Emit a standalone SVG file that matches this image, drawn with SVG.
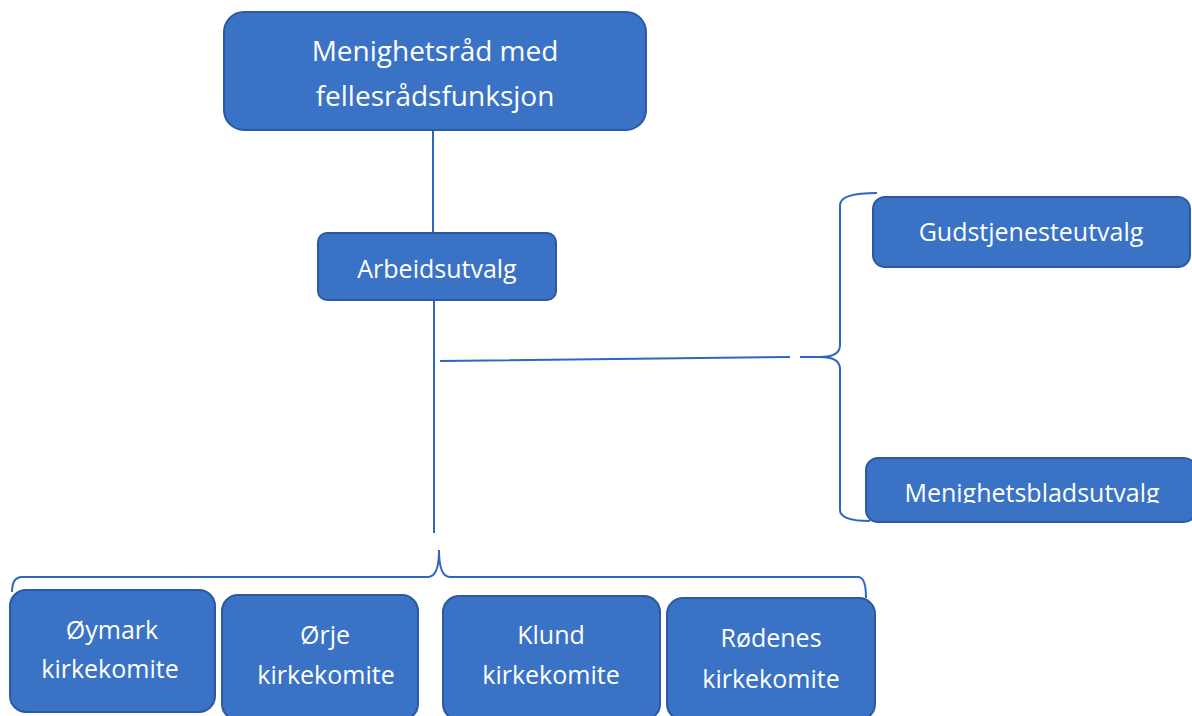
<svg xmlns="http://www.w3.org/2000/svg" width="1192" height="716" viewBox="0 0 1192 716">
<style>
.box{fill:#3a72c6;stroke:#2c5aa0;stroke-width:2}
.t{fill:#fff;font-family:"Open Sans","Liberation Sans",sans-serif;text-anchor:middle}
.ln{fill:none;stroke:#2f66c2;stroke-width:2}
</style>
<defs>
<clipPath id="cmbl"><rect x="866" y="458" width="330" height="45"/></clipPath>
</defs>
<rect width="1192" height="716" fill="#fff"/>
<g id="connectors">
<path class="ln" d="M433 130V233"/>
<path class="ln" d="M434 300V533"/>
<path class="ln" d="M440 361L790 357M800 357L820 357"/>
<path class="ln" d="M877 193Q840 193 840 205V345Q840 357 820 357Q840 357 840 369V510Q840 521 870 521"/>
<path class="ln" d="M12 592Q12 577 22 577H428Q439 577 439 550Q439 577 450 577H858Q866 577 866 598"/>
</g>
<g id="n-top">
<rect class="box" x="224" y="12" width="422" height="118" rx="20"/>
<text class="t" x="435" y="61" font-size="28">Menighetsråd med</text>
<text class="t" x="435" y="106" font-size="28">fellesrådsfunksjon</text>
</g>
<g id="n-arbeid">
<rect class="box" x="318" y="233" width="238" height="67" rx="9"/>
<text class="t" x="437" y="278" font-size="25">Arbeidsutvalg</text>
</g>
<g id="n-guds">
<rect class="box" x="873" y="197" width="317" height="70" rx="12"/>
<text class="t" x="1031" y="241" font-size="25">Gudstjenesteutvalg</text>
</g>
<g id="n-mbl">
<rect class="box" x="866" y="458" width="330" height="64" rx="12"/>
<text class="t" x="1032" y="502" font-size="25" clip-path="url(#cmbl)">Menighetsbladsutvalg</text>
</g>
<g id="n-oymark">
<rect class="box" x="10" y="590" width="205" height="122" rx="16"/>
<text class="t" x="112" y="639" font-size="25">Øymark</text>
<text class="t" x="110" y="678" font-size="25">kirkekomite</text>
</g>
<g id="n-orje">
<rect class="box" x="222" y="595" width="196" height="125" rx="16"/>
<text class="t" x="325" y="644" font-size="25">Ørje</text>
<text class="t" x="326" y="684" font-size="25">kirkekomite</text>
</g>
<g id="n-klund">
<rect class="box" x="443" y="596" width="217" height="124" rx="16"/>
<text class="t" x="551" y="644" font-size="25">Klund</text>
<text class="t" x="551" y="684" font-size="25">kirkekomite</text>
</g>
<g id="n-rodenes">
<rect class="box" x="667" y="598" width="208" height="122" rx="16"/>
<text class="t" x="771" y="647" font-size="25">Rødenes</text>
<text class="t" x="771" y="688" font-size="25">kirkekomite</text>
</g>
</svg>
